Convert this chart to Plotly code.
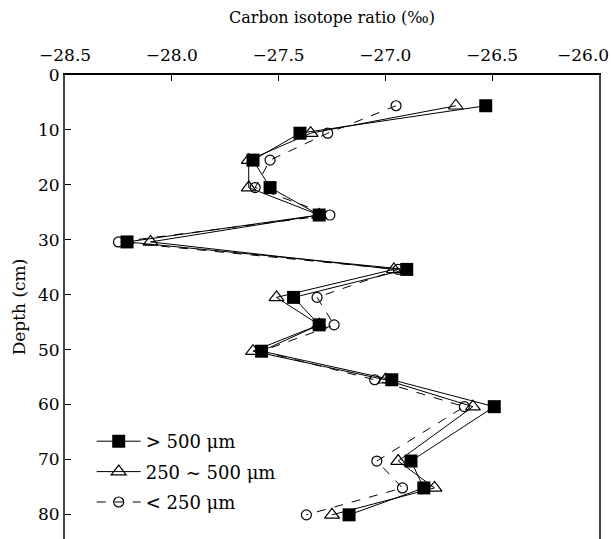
import plotly.graph_objects as go

depth = [5.6, 10.6, 15.5, 20.5, 25.5, 30.4, 35.4, 40.5, 45.5, 50.3, 55.5, 60.4, 70.3, 75.2, 80.1]

gt500 = [-26.53, -27.40, -27.62, -27.54, -27.31, -28.21, -26.90, -27.43, -27.31, -27.58, -26.97, -26.49, -26.88, -26.82, -27.17]
mid = [-26.67, -27.35, -27.64, -27.64, -27.31, -28.10, -26.96, -27.51, -27.31, -27.62, -27.00, -26.59, -26.94, -26.77, -27.25]
lt250 = [-26.95, -27.27, -27.54, -27.61, -27.26, -28.25, -26.94, -27.32, -27.24, -27.58, -27.05, -26.63, -27.04, -26.92, -27.37]

names = ["&gt; 500 μm", "250 ~ 500 μm", "&lt; 250 μm"]
xticks = [-28.5, -28.0, -27.5, -27.0, -26.5, -26.0]
xticklabels = ["−28.5", "−28.0", "−27.5", "−27.0", "−26.5", "−26.0"]
yticks = [0, 10, 20, 30, 40, 50, 60, 70, 80]

FONT = "DejaVu Serif"

fig = go.Figure()
fig.add_trace(go.Scatter(
    x=lt250, y=depth, name=names[2], mode="lines+markers",
    line=dict(color="black", width=1, dash="dash"),
    marker=dict(symbol="circle-open", size=10, color="black", line=dict(width=1.2)),
    legendrank=3, legendgroup="c",
))
fig.add_trace(go.Scatter(
    x=mid, y=depth, name=names[1], mode="lines+markers",
    line=dict(color="black", width=1),
    marker=dict(symbol="triangle-up-open", size=13, color="black", line=dict(width=1.2)),
    legendrank=2, legendgroup="b",
))
fig.add_trace(go.Scatter(
    x=gt500, y=depth, name=names[0], mode="lines+markers",
    line=dict(color="black", width=1),
    marker=dict(symbol="square", size=13, color="black"),
    legendrank=1, legendgroup="a",
))

# last x tick label sits flush with the right edge of the figure (as in the reference)
ticktext = xticklabels[:-1] + [""]
fig.add_annotation(
    text=xticklabels[-1], xref="paper", yref="paper",
    x=(611 - 65) / 534, y=1 + (75 - 55) / 464, xanchor="right", yanchor="middle",
    showarrow=False, font=dict(family=FONT, size=17, color="black"),
)

fig.update_layout(
    width=611, height=539,
    margin=dict(l=65, r=12, t=75, b=0),
    paper_bgcolor="white", plot_bgcolor="white",
    font=dict(family=FONT, size=15, color="black"),
    showlegend=True,
    legend=dict(
        x=0.05, y=0.25, xanchor="left", yanchor="top",
        bgcolor="rgba(0,0,0,0)", font=dict(family=FONT, size=18),
        itemwidth=44, tracegroupgap=4, traceorder="grouped",
    ),
    xaxis=dict(
        side="top", range=[-28.5005, -25.9995], tickvals=xticks, ticktext=ticktext,
        ticks="inside", ticklen=6, tickcolor="black",
        showline=True, linecolor="black", linewidth=1.5, mirror=False,
        showgrid=False, zeroline=False, automargin=False,
        tickfont=dict(family=FONT, size=17),
        ticklabelstandoff=5,
        title=dict(text="Carbon isotope ratio (‰)", font=dict(family=FONT, size=16), standoff=18),
    ),
    yaxis=dict(
        range=[84.5, 0], tickvals=yticks,
        ticks="inside", ticklen=6, tickcolor="black",
        showline=True, linecolor="#444", linewidth=2, mirror=True,
        showgrid=False, zeroline=False, automargin=False,
        tickfont=dict(family=FONT, size=17),
        title=dict(text="Depth (cm)", font=dict(family=FONT, size=17), standoff=8),
    ),
)

fig.write_html("out.html")
